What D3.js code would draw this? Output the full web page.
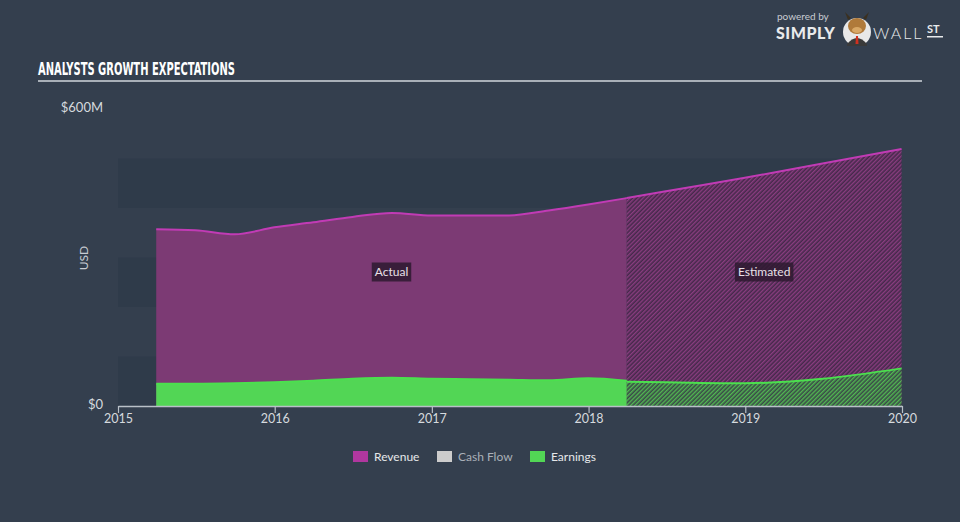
<!DOCTYPE html>
<html><head><meta charset="utf-8">
<script src="https://cdn.jsdelivr.net/npm/d3@7"></script>
<style>
html,body{margin:0;padding:0;background:#343f4e;}
svg{display:block;}
</style></head>
<body>
<script>
// ---- data ----
const actualDates = ["2015-03-31","2015-06-30","2015-09-30","2015-12-31","2016-03-31","2016-06-30","2016-09-30","2016-12-31","2017-03-31","2017-06-30","2017-09-30","2017-12-31","2018-03-31"];
const revenueActual = [357,355,347,361,371,382,390,385,385,385,395,407,420];
const earningsActual = [45,45,46,48,51,55,57,55,54,53,52,56,51];
const estDates = ["2018-03-31","2018-06-30","2018-12-31","2019-06-30","2019-12-31"];
const revenueEst = [420,434,461,490,519];
const earningsEst = [49,48,46,55,76];
const yTicks = [0,600];
const yTickLabels = ["$0","$600M"];
const xTickYears = [2015,2016,2017,2018,2019,2020];
const legendItems = ["Revenue","Cash Flow","Earnings"];
const legendColors = ["#b0379f","#cccccc","#52d655"];

const W=960,H=522;
const svg=d3.select("body").append("svg").attr("width",W).attr("height",H);
const FONT="Lato, 'Open Sans', sans-serif";
svg.append("rect").attr("width",W).attr("height",H).attr("fill","#343f4e");

const parse=d3.timeParse("%Y-%m-%d");
const x=d3.scaleTime().domain([new Date(2015,0,1),new Date(2020,0,1)]).range([118,902]);
const y=d3.scaleLinear().domain([0,600]).range([406,109]);

// bands
const bandVals=[0,200,400];
svg.selectAll("rect.band").data(bandVals).enter().append("rect")
  .attr("x",118).attr("width",902-118)
  .attr("y",d=>y(d+100)).attr("height",d=>y(d)-y(d+100))
  .attr("fill","#2f3b4a");

// patterns
const defs=svg.append("defs");
function hatch(id,bg,fg){
  const p=defs.append("pattern").attr("id",id).attr("patternUnits","userSpaceOnUse")
    .attr("width",3).attr("height",3).attr("patternTransform","rotate(45)");
  p.append("rect").attr("width",3).attr("height",3).attr("fill",bg);
  p.append("rect").attr("width",1.4).attr("height",3).attr("fill",fg);
}
hatch("hRev","#45294b","#8a3d80");
hatch("hEarn","#3a4a48","#52b852");

const A=actualDates.map(parse), E=estDates.map(parse);
const area=d3.area().curve(d3.curveMonotoneX).x(d=>x(d[0])).y0(y(0)).y1(d=>y(d[1]));
const line=d3.line().curve(d3.curveMonotoneX).x(d=>x(d[0])).y(d=>y(d[1]));
const revA=A.map((d,i)=>[d,revenueActual[i]]);
const earnA=A.map((d,i)=>[d,earningsActual[i]]);
const revE=E.map((d,i)=>[d,revenueEst[i]]);
const earnE=E.map((d,i)=>[d,earningsEst[i]]);

svg.append("path").attr("d",area(revA)).attr("fill","#7c3a74");
svg.append("path").attr("d",area(revE)).attr("fill","url(#hRev)");
svg.append("path").attr("d",line(revA)).attr("fill","none").attr("stroke","#c13bb5").attr("stroke-width",2);
svg.append("path").attr("d",line(revE)).attr("fill","none").attr("stroke","#c13bb5").attr("stroke-width",2);
svg.append("path").attr("d",area(earnA)).attr("fill","#52d655");
svg.append("path").attr("d",area(earnE)).attr("fill","url(#hEarn)");
svg.append("path").attr("d",line(earnA)).attr("fill","none").attr("stroke","#4be04e").attr("stroke-width",2);
svg.append("path").attr("d",line(earnE)).attr("fill","none").attr("stroke","#4be04e").attr("stroke-width",2);

// labels Actual / Estimated
function tag(cx,cy,txt){
  const g=svg.append("g");
  const t=g.append("text").attr("x",cx).attr("y",cy+4).attr("text-anchor","middle")
    .attr("font-family",FONT).attr("font-size",12).attr("fill","#e8e0e8").text(txt);
  const bb=t.node().getBBox();
  g.insert("rect","text").attr("x",bb.x-3).attr("y",cy-9.5).attr("width",bb.width+6).attr("height",19)
    .attr("fill","#2e1a30").attr("opacity",0.85);
}
tag((x(A[0])+x(E[0]))/2,272,"Actual");
tag((x(E[0])+x(E[E.length-1]))/2,272,"Estimated");

// x axis
const xAxis=d3.axisBottom(x).tickValues(xTickYears.map(v=>new Date(v,0,1))).tickFormat(d3.timeFormat("%Y")).tickSize(7).tickSizeOuter(0);
const gx=svg.append("g").attr("transform","translate(0,406)").call(xAxis);
gx.select(".domain").attr("stroke","#b9c0c8").attr("stroke-width",1.5);
gx.selectAll(".tick line").attr("stroke","#b9c0c8").attr("stroke-width",1.2);
gx.selectAll(".tick text").attr("fill","#d6dade").attr("font-family",FONT).attr("font-size",12.5).attr("dy","0.55em");

// y labels
svg.selectAll("text.yl").data(yTicks).enter().append("text")
  .attr("x",103).attr("y",d=>y(d)+3).attr("text-anchor","end")
  .attr("font-family",FONT).attr("font-size",13).attr("fill","#d6dade")
  .text((d,i)=>yTickLabels[i]);
svg.append("text").attr("transform","translate(88,258) rotate(-90)").attr("text-anchor","middle")
  .attr("font-family",FONT).attr("font-size",12).attr("fill","#c8ccd2").text("USD");

// title
svg.append("text").attr("x",38).attr("y",75).attr("font-family","'Liberation Sans Narrow','DejaVu Sans Condensed',sans-serif")
  .attr("font-weight","bold").attr("font-size",17).attr("fill","#ffffff").attr("textLength",197).attr("lengthAdjust","spacingAndGlyphs")
  .text("ANALYSTS GROWTH EXPECTATIONS");
svg.append("rect").attr("x",38).attr("y",80).attr("width",884).attr("height",2).attr("fill","#a9b0b8");

// legend
const lx=[353,437,530];
legendItems.forEach((n,i)=>{
  svg.append("rect").attr("x",lx[i]).attr("y",451).attr("width",15).attr("height",11).attr("fill",legendColors[i]);
  svg.append("text").attr("x",lx[i]+21).attr("y",461).attr("font-family",FONT).attr("font-size",12)
    .attr("fill",i===1?"#aab0b8":"#e6e8ea").text(n);
});

// logo
svg.append("text").attr("x",777).attr("y",20).attr("font-family",FONT).attr("font-size",10).attr("fill","#c8ccd2").text("powered by");
svg.append("text").attr("x",776).attr("y",39).attr("font-family",FONT).attr("font-weight","900").attr("font-size",16).attr("fill","#e8eaec").attr("letter-spacing",0.5).text("SIMPLY");
const lg=svg.append("g").attr("transform","translate(857,32)");
lg.append("circle").attr("r",14).attr("fill","#e8e8e8");
lg.append("path").attr("d","M-10,12 Q0,0 10,12 L10,14 L-10,14Z").attr("fill","#3a3a3a");
lg.append("ellipse").attr("cx",0).attr("cy",-6).attr("rx",9).attr("ry",8).attr("fill","#b07a3a");
lg.append("path").attr("d","M-9,-12 L-12,-20 L-6,-14Z M9,-12 L12,-20 L6,-14Z").attr("fill","#3a3020");
lg.append("ellipse").attr("cx",0).attr("cy",-2).attr("rx",5).attr("ry",3).attr("fill","#d9a866");
lg.append("path").attr("d","M-1,4 L1,4 L1.5,12 L-1.5,12Z").attr("fill","#d03020");
svg.append("text").attr("x",873).attr("y",39).attr("font-family",FONT).attr("font-weight","300").attr("font-size",16).attr("fill","#e8eaec").attr("letter-spacing",2).text("WALL");
svg.append("text").attr("x",927).attr("y",33).attr("font-family",FONT).attr("font-weight","bold").attr("font-size",11).attr("fill","#e8eaec").text("ST");
svg.append("rect").attr("x",927).attr("y",36).attr("width",16).attr("height",1.5).attr("fill","#e8eaec");
</script>
</body></html>
